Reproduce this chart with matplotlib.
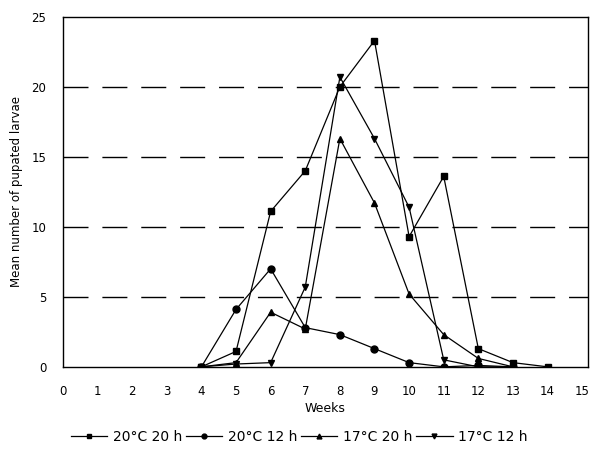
import numpy as np
import matplotlib
matplotlib.use("Agg")
import matplotlib.pyplot as plt

###########################################
# Data
###########################################
weeks_a = [4, 5, 6, 7, 8, 9, 10, 11, 12, 13, 14]
t20_h20 = [0, 1.1, 11.1, 14.0, 20.0, 23.3, 9.3, 13.6, 1.3, 0.3, 0]

weeks_b = [4, 5, 6, 7, 8, 9, 10, 11, 12, 13]
t20_h12 = [0, 4.1, 7.0, 2.8, 2.3, 1.3, 0.3, 0, 0.1, 0]
t17_h20 = [0, 0.3, 3.9, 2.7, 16.3, 11.7, 5.2, 2.3, 0.6, 0]
t17_h12 = [0, 0.2, 0.3, 5.7, 20.7, 16.3, 11.4, 0.5, 0, 0]

labels = ["20\u00b0C 20 h", "20\u00b0C 12 h", "17\u00b0C 20 h", "17\u00b0C 12 h"]
x_ticks = list(range(0, 16))
y_ticks = [0, 5, 10, 15, 20, 25]

###########################################
# Figure
###########################################
plt.rcParams['font.family'] = ['DejaVu Sans']
fig = plt.figure(figsize=(5.94, 4.54), dpi=100)
ax = fig.add_axes([0.106, 0.192, 0.884, 0.771])

# dashed horizontal grid
for yv in y_ticks[1:-1]:
    ax.axhline(yv, color='black', linewidth=1, linestyle=(0, (18, 10)), zorder=1)

style = dict(color='black', linewidth=0.9, markersize=5, zorder=3)
ax.plot(weeks_a, t20_h20, marker='s', label=labels[0], **style)
ax.plot(weeks_b, t20_h12, marker='o', label=labels[1], **style)
ax.plot(weeks_b, t17_h20, marker='^', label=labels[2], **style)
ax.plot(weeks_b, t17_h12, marker='v', label=labels[3], **style)

ax.set_xlim(0, 15.17)
ax.set_ylim(0, 25)
ax.set_xticks(x_ticks)
ax.set_yticks(y_ticks)
ax.tick_params(axis='both', length=0, labelsize=8.5)
ax.tick_params(axis='x', pad=13)
ax.tick_params(axis='y', pad=12)

for s in ax.spines.values():
    s.set_linewidth(1)

ax.set_xlabel('Weeks', fontsize=9, labelpad=3)
ax.set_ylabel('Mean number of pupated larvae', fontsize=8.5, labelpad=6)

ax.legend(loc='center', bbox_to_anchor=(0.45, -0.2), ncol=4, frameon=False,
          fontsize=10, handlelength=2.6, handletextpad=0.4, columnspacing=0.3,
          markerscale=0.7)

fig.savefig('out.png', dpi=100)
